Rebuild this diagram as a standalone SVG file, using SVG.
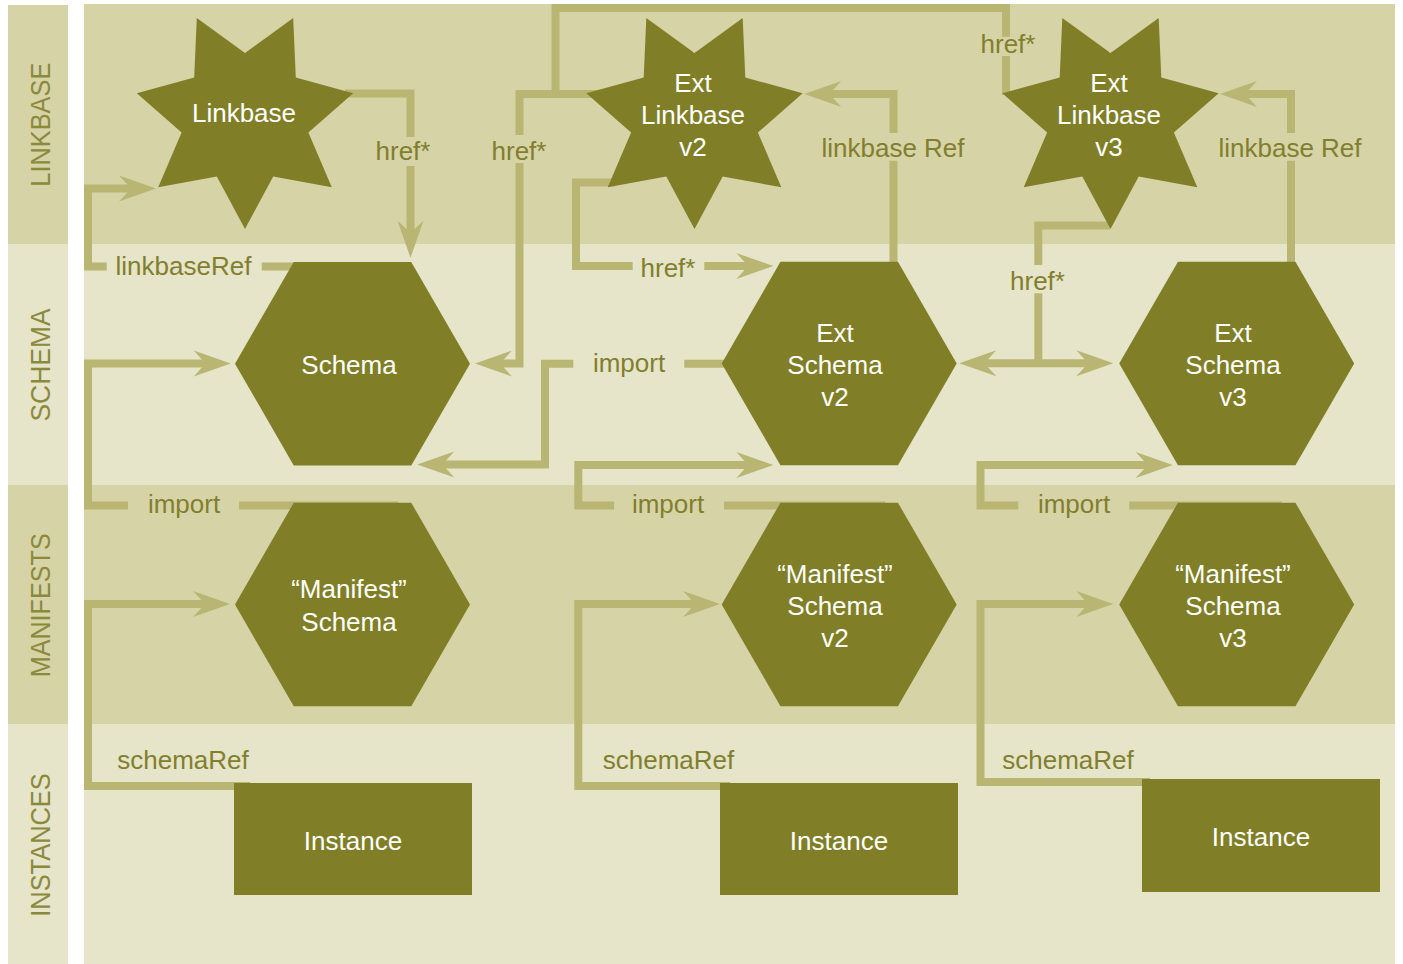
<svg xmlns="http://www.w3.org/2000/svg" width="1403" height="964" viewBox="0 0 1403 964">
  <style>
    .bandDark { fill: #d6d3a6; }
    .bandLight { fill: #e6e4c9; }
    .bandLabel { font-family: "Liberation Sans", Arial, Helvetica, sans-serif; font-size: 28px; fill: #8b8a3c; text-anchor: middle; }
    .node { fill: #807f28; }
    .nodeText { font-family: "Liberation Sans", Arial, Helvetica, sans-serif; font-size: 26px; fill: #ffffff; text-anchor: middle; }
    .conn { fill: none; stroke: #b9b673; stroke-width: 8; stroke-linejoin: miter; stroke-linecap: butt; }
    .arrow { marker-end: url(#ah); }
    .label { font-family: "Liberation Sans", Arial, Helvetica, sans-serif; font-size: 26px; fill: #817f2e; text-anchor: middle; }
  </style>
  <defs>
    <marker id="ah" markerUnits="userSpaceOnUse" orient="auto" markerWidth="40" markerHeight="30" viewBox="-20 -15 40 30" refX="0" refY="0">
      <path d="M18,0 L-19,-13 L-7,0 L-19,13 Z" fill="#b9b673"/>
    </marker>
    <marker id="ahs" markerUnits="userSpaceOnUse" orient="auto-start-reverse" markerWidth="40" markerHeight="30" viewBox="-20 -15 40 30" refX="0" refY="0">
      <path d="M18,0 L-19,-13 L-7,0 L-19,13 Z" fill="#b9b673"/>
    </marker>
    <polygon id="hex" points="-117.5,0 -58.75,-101.8 58.75,-101.8 117.5,0 58.75,101.8 -58.75,101.8"/>
    <polygon id="star" points="0,111 -28.2,58.6 -86.8,69.2 -63.4,14.5 -108.2,-24.7 -50.8,-40.5 -48.2,-100 0,-65 48.2,-100 50.8,-40.5 108.2,-24.7 63.4,14.5 86.8,69.2 28.2,58.6"/>
  </defs>

  <!-- swimlane bands -->
  <g id="bands">
    <rect class="bandDark" x="8" y="5" width="60" height="239"/>
    <rect class="bandLight" x="8" y="244" width="60" height="241"/>
    <rect class="bandDark" x="8" y="485" width="60" height="239"/>
    <rect class="bandLight" x="8" y="724" width="60" height="240"/>
    <rect class="bandDark" x="84" y="4" width="1311" height="240"/>
    <rect class="bandLight" x="84" y="244" width="1311" height="241"/>
    <rect class="bandDark" x="84" y="485" width="1311" height="239"/>
    <rect class="bandLight" x="84" y="724" width="1311" height="240"/>
    <text class="bandLabel" transform="translate(50,124.7) rotate(-90)" textLength="124" lengthAdjust="spacingAndGlyphs">LINKBASE</text>
    <text class="bandLabel" transform="translate(50,365) rotate(-90)" textLength="113" lengthAdjust="spacingAndGlyphs">SCHEMA</text>
    <text class="bandLabel" transform="translate(50,605.3) rotate(-90)" textLength="144" lengthAdjust="spacingAndGlyphs">MANIFESTS</text>
    <text class="bandLabel" transform="translate(50,845) rotate(-90)" textLength="143.5" lengthAdjust="spacingAndGlyphs">INSTANCES</text>
  </g>

  <!-- connectors -->
  <g id="connectors">
    <!-- Linkbase href* to Schema -->
    <path class="conn arrow" d="M345,93.5 H410.5 V137 M410.5,166 V239.7"/>
    <!-- Schema linkbaseRef to Linkbase -->
    <path class="conn arrow" d="M300,266.5 H261.7 M106.7,266.5 H88 V188.5 H138"/>
    <!-- Manifest import of Schema -->
    <path class="conn arrow" d="M398,505.5 H239 M128,505.5 H88 V363.5 H212.7"/>
    <!-- Instance schemaRef to Manifest -->
    <path class="conn arrow" d="M250,786 H88 V604 H212"/>
    <!-- Ext Linkbase v2 / v3 href* to Schema -->
    <path class="conn arrow" d="M1006,95 V56 M1006,36.7 V8 H555.5 V94 H519.5 V135 M519.5,163 V363.5 H493"/>
    <path class="conn" d="M600,94 H555.5"/>
    <!-- Ext Linkbase v2 href* to Ext Schema v2 -->
    <path class="conn arrow" d="M615,182.5 H576 V266 H632.7 M704.3,266 H755.3"/>
    <!-- Ext Schema v2 linkbase Ref -->
    <path class="conn arrow" d="M893.5,270 V160.7 M893.5,133 V94 H822.3"/>
    <!-- Ext Schema v2 import of Schema -->
    <path class="conn arrow" d="M730,363.7 H684.3 M573.3,363.7 H545 V464.5 H435.3"/>
    <!-- Manifest v2 import of Ext Schema v2 -->
    <path class="conn arrow" d="M885,505.5 H724 M614,505.5 H578.3 V465 H755.3"/>
    <!-- Instance v2 schemaRef -->
    <path class="conn arrow" d="M730,786 H578.3 V604 H702"/>
    <!-- Ext Linkbase v3 href* to both Ext Schemas -->
    <path class="conn" d="M1110,225.5 H1038.3 V265 M1038.3,293.3 V363.3"/>
    <path class="conn" marker-start="url(#ahs)" marker-end="url(#ah)" d="M977.3,363.3 H1095.3"/>
    <!-- Ext Schema v3 linkbase Ref -->
    <path class="conn arrow" d="M1291,270 V160.7 M1291,133 V94 H1238"/>
    <!-- Manifest v3 import of Ext Schema v3 -->
    <path class="conn arrow" d="M1282,505.5 H1129.3 M1018.3,505.5 H980.5 V465 H1154.7"/>
    <!-- Instance v3 schemaRef -->
    <path class="conn arrow" d="M1150,782 H980.5 V604 H1095.3"/>
  </g>

  <!-- connector labels -->
  <g id="connector-labels">
    <text class="label" x="403" y="160">href*</text>
    <text class="label" x="183.5" y="275">linkbaseRef</text>
    <text class="label" x="184" y="513">import</text>
    <text class="label" x="183" y="769">schemaRef</text>
    <text class="label" x="519" y="160">href*</text>
    <text class="label" x="1008" y="53">href*</text>
    <text class="label" x="668" y="277">href*</text>
    <text class="label" x="893" y="157">linkbase Ref</text>
    <text class="label" x="629" y="372">import</text>
    <text class="label" x="668" y="513">import</text>
    <text class="label" x="668.5" y="769">schemaRef</text>
    <text class="label" x="1037.5" y="290">href*</text>
    <text class="label" x="1290" y="157">linkbase Ref</text>
    <text class="label" x="1074" y="513">import</text>
    <text class="label" x="1068" y="769">schemaRef</text>
  </g>

  <!-- linkbases -->
  <g id="linkbase">
    <use href="#star" class="node" x="245" y="118"/>
    <text class="nodeText" x="244" y="122">Linkbase</text>
  </g>
  <g id="ext-linkbase-v2">
    <use href="#star" class="node" x="694.5" y="118"/>
    <text class="nodeText" x="693" y="92">Ext</text>
    <text class="nodeText" x="693" y="124">Linkbase</text>
    <text class="nodeText" x="693" y="156">v2</text>
  </g>
  <g id="ext-linkbase-v3">
    <use href="#star" class="node" x="1110.5" y="118"/>
    <text class="nodeText" x="1109" y="92">Ext</text>
    <text class="nodeText" x="1109" y="124">Linkbase</text>
    <text class="nodeText" x="1109" y="156">v3</text>
  </g>

  <!-- schemas -->
  <g id="schema">
    <use href="#hex" class="node" x="352.5" y="363.7"/>
    <text class="nodeText" x="349" y="374">Schema</text>
  </g>
  <g id="ext-schema-v2">
    <use href="#hex" class="node" x="839.2" y="363.5"/>
    <text class="nodeText" x="835" y="342">Ext</text>
    <text class="nodeText" x="835" y="374">Schema</text>
    <text class="nodeText" x="835" y="406">v2</text>
  </g>
  <g id="ext-schema-v3">
    <use href="#hex" class="node" x="1236.7" y="363.5"/>
    <text class="nodeText" x="1233" y="342">Ext</text>
    <text class="nodeText" x="1233" y="374">Schema</text>
    <text class="nodeText" x="1233" y="406">v3</text>
  </g>

  <!-- manifests -->
  <g id="manifest-schema">
    <use href="#hex" class="node" x="352.5" y="604.5"/>
    <text class="nodeText" x="349" y="598">“Manifest”</text>
    <text class="nodeText" x="349" y="630.5">Schema</text>
  </g>
  <g id="manifest-schema-v2">
    <use href="#hex" class="node" x="839.2" y="604.5"/>
    <text class="nodeText" x="835" y="583">“Manifest”</text>
    <text class="nodeText" x="835" y="615">Schema</text>
    <text class="nodeText" x="835" y="647">v2</text>
  </g>
  <g id="manifest-schema-v3">
    <use href="#hex" class="node" x="1236.7" y="604.5"/>
    <text class="nodeText" x="1233" y="583">“Manifest”</text>
    <text class="nodeText" x="1233" y="615">Schema</text>
    <text class="nodeText" x="1233" y="647">v3</text>
  </g>

  <!-- instances -->
  <g id="instance">
    <rect class="node" x="234" y="783" width="238" height="112"/>
    <text class="nodeText" x="353" y="850">Instance</text>
  </g>
  <g id="instance-v2">
    <rect class="node" x="720" y="783" width="238" height="112"/>
    <text class="nodeText" x="839" y="850">Instance</text>
  </g>
  <g id="instance-v3">
    <rect class="node" x="1142" y="779" width="238" height="113"/>
    <text class="nodeText" x="1261" y="846">Instance</text>
  </g>
</svg>
